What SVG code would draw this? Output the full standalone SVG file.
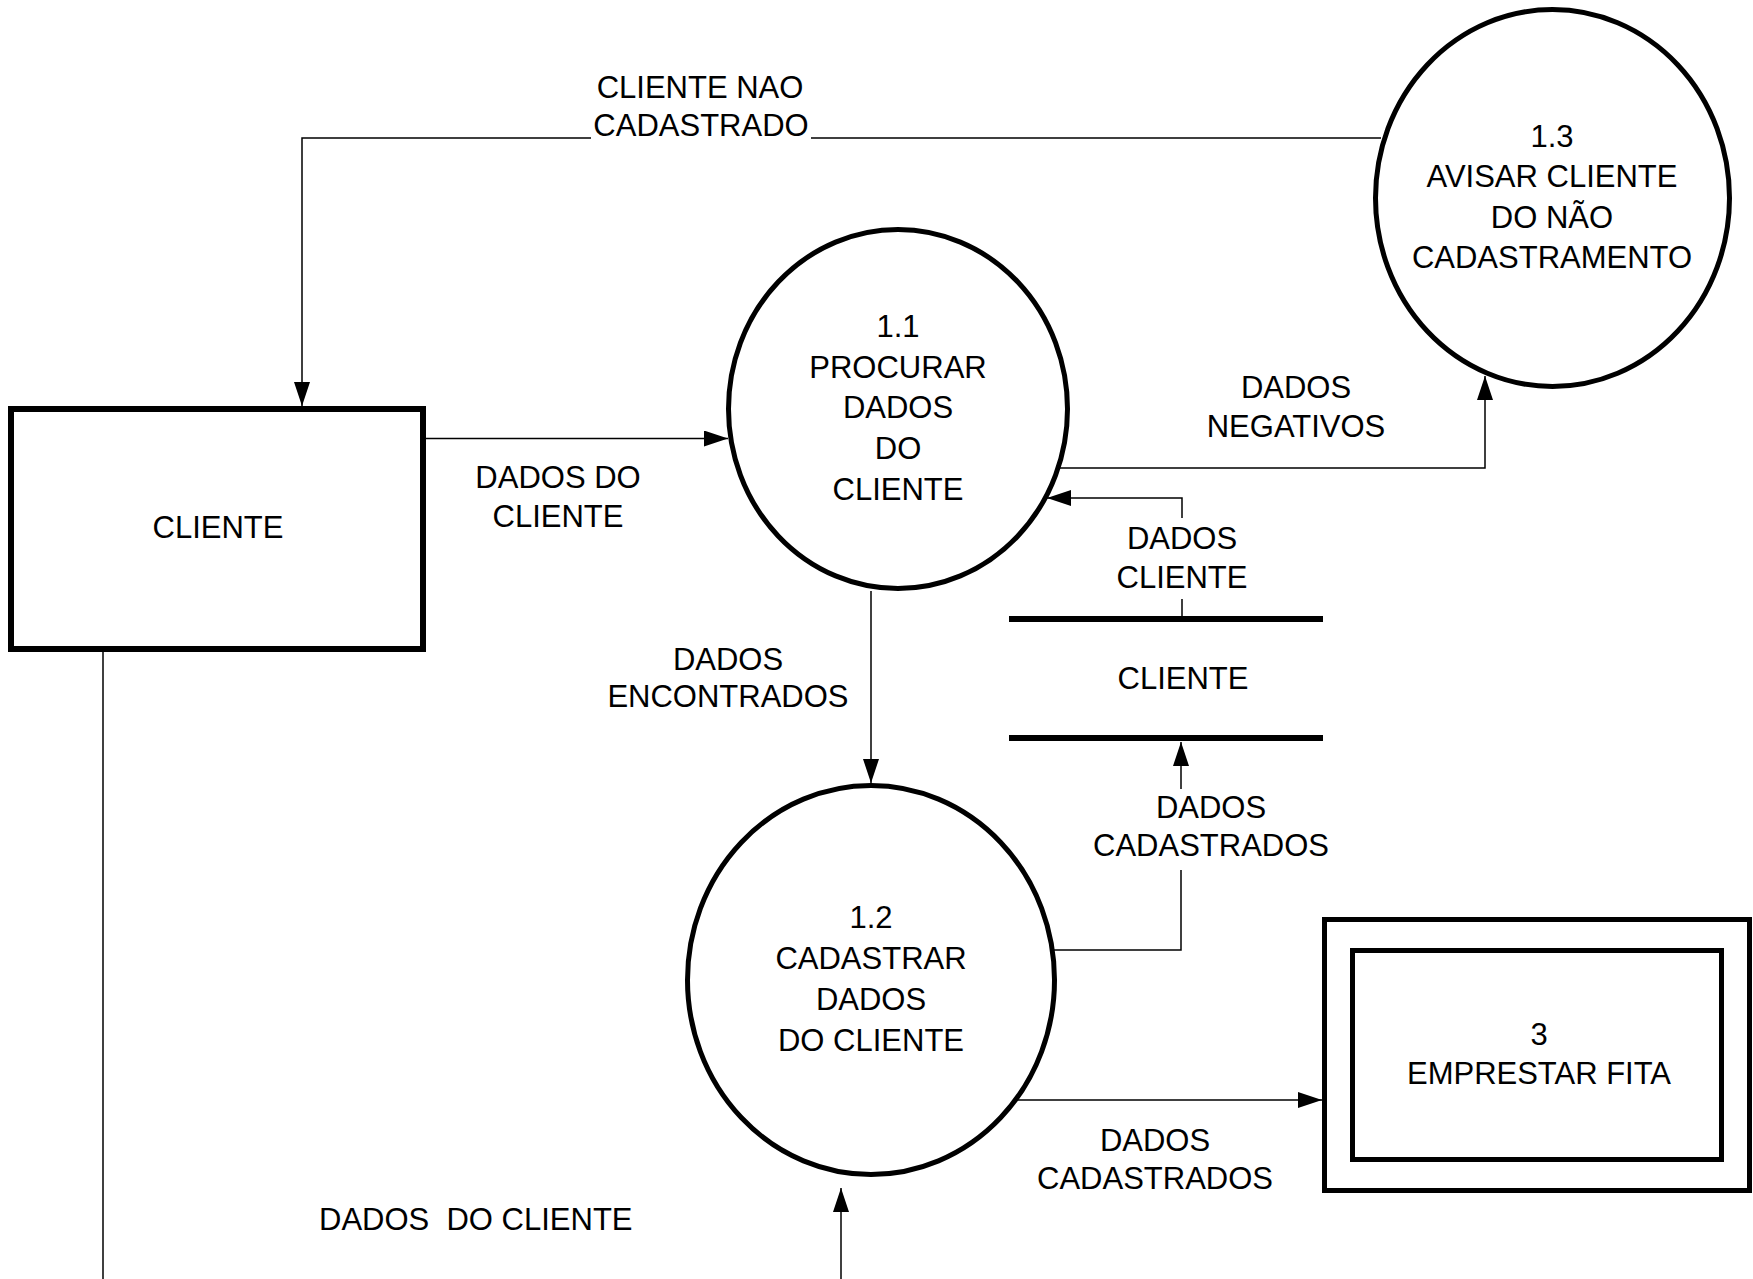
<svg xmlns="http://www.w3.org/2000/svg" width="1753" height="1279" viewBox="0 0 1753 1279">
  <style>
    .bg { fill: #ffffff; }
    .box { fill: #ffffff; stroke: #000000; stroke-width: 5; }
    .ent { fill: #ffffff; stroke: #000000; stroke-width: 6; }
    .proc { fill: #ffffff; stroke: #000000; stroke-width: 5; }
    .store { stroke: #000000; stroke-width: 6; fill: none; }
    .flow { fill: none; stroke: #000000; stroke-width: 1.5; }
    text { font-family: "Liberation Sans", Arial, sans-serif; font-size: 31px; fill: #000000; text-anchor: middle; }
    .pre { text-anchor: start; white-space: pre; }
  </style>
  <defs>
    <marker id="arrow" viewBox="0 0 24 16" refX="24" refY="8" markerWidth="24" markerHeight="16" markerUnits="userSpaceOnUse" orient="auto">
      <path d="M0,0 L24,8 L0,16 Z" fill="#000000"/>
    </marker>
  </defs>

  <rect class="bg" x="0" y="0" width="1753" height="1279"/>

  <!-- data flows -->
  <g id="connectors">
    <!-- 1.3 -> CLIENTE : CLIENTE NAO CADASTRADO -->
    <path class="flow" d="M1381,138 H811 M591,138 H302 V406" marker-end="url(#arrow)"/>
    <!-- CLIENTE -> 1.1 : DADOS DO CLIENTE -->
    <path class="flow" d="M426,438.5 H728" marker-end="url(#arrow)"/>
    <!-- 1.1 -> 1.3 : DADOS NEGATIVOS -->
    <path class="flow" d="M1058,468 H1485 V376" marker-end="url(#arrow)"/>
    <!-- store CLIENTE -> 1.1 : DADOS CLIENTE -->
    <path class="flow" d="M1182,616 V599 M1182,518 V498 H1047" marker-end="url(#arrow)"/>
    <!-- 1.1 -> 1.2 : DADOS ENCONTRADOS -->
    <path class="flow" d="M871,591 V783" marker-end="url(#arrow)"/>
    <!-- 1.2 -> store CLIENTE : DADOS CADASTRADOS -->
    <path class="flow" d="M1053,950 H1181 V870 M1181,789 V742" marker-end="url(#arrow)"/>
    <!-- 1.2 -> 3 : DADOS CADASTRADOS -->
    <path class="flow" d="M1015,1100 H1322" marker-end="url(#arrow)"/>
    <!-- CLIENTE -> 1.2 : DADOS  DO CLIENTE (runs below the sheet) -->
    <path class="flow" d="M103,651 V1279"/>
    <path class="flow" d="M841,1279 V1188" marker-end="url(#arrow)"/>

    <text x="700" y="98">CLIENTE NAO</text>
    <text x="701" y="136">CADASTRADO</text>
    <text x="558" y="488">DADOS DO</text>
    <text x="558" y="527">CLIENTE</text>
    <text x="1296" y="398">DADOS</text>
    <text x="1296" y="437">NEGATIVOS</text>
    <text x="1182" y="549">DADOS</text>
    <text x="1182" y="588">CLIENTE</text>
    <text x="728" y="670">DADOS</text>
    <text x="728" y="707">ENCONTRADOS</text>
    <text x="1211" y="818">DADOS</text>
    <text x="1211" y="856">CADASTRADOS</text>
    <text x="1155" y="1151">DADOS</text>
    <text x="1155" y="1189">CADASTRADOS</text>
    <text class="pre" x="319" y="1230" xml:space="preserve">DADOS  DO CLIENTE</text>
  </g>

  <!-- external entity -->
  <g id="ent-cliente">
    <rect class="ent" x="11" y="409" width="412" height="240"/>
    <text x="218" y="538">CLIENTE</text>
  </g>

  <!-- processes -->
  <g id="proc-1-1">
    <ellipse class="proc" cx="898" cy="409" rx="169.5" ry="179.5"/>
    <text x="898" y="337">1.1</text>
    <text x="898" y="378">PROCURAR</text>
    <text x="898" y="418">DADOS</text>
    <text x="898" y="459">DO</text>
    <text x="898" y="500">CLIENTE</text>
  </g>

  <g id="proc-1-2">
    <ellipse class="proc" cx="871" cy="980" rx="183.5" ry="194.5"/>
    <text x="871" y="928">1.2</text>
    <text x="871" y="969">CADASTRAR</text>
    <text x="871" y="1010">DADOS</text>
    <text x="871" y="1051">DO CLIENTE</text>
  </g>

  <g id="proc-1-3">
    <ellipse class="proc" cx="1552.5" cy="198" rx="177" ry="188.5"/>
    <text x="1552" y="147">1.3</text>
    <text x="1552" y="187">AVISAR CLIENTE</text>
    <text x="1552" y="228">DO NÃO</text>
    <text x="1552" y="268">CADASTRAMENTO</text>
  </g>

  <!-- data store -->
  <g id="store-cliente">
    <line class="store" x1="1009" y1="619" x2="1323" y2="619"/>
    <line class="store" x1="1009" y1="738" x2="1323" y2="738"/>
    <text x="1183" y="689">CLIENTE</text>
  </g>

  <!-- other process (off this level) -->
  <g id="proc-3">
    <rect class="box" x="1324.5" y="919.5" width="425" height="271"/>
    <rect class="box" x="1352.5" y="950.5" width="369" height="209"/>
    <text x="1539" y="1045">3</text>
    <text x="1539" y="1084">EMPRESTAR FITA</text>
  </g>
</svg>
